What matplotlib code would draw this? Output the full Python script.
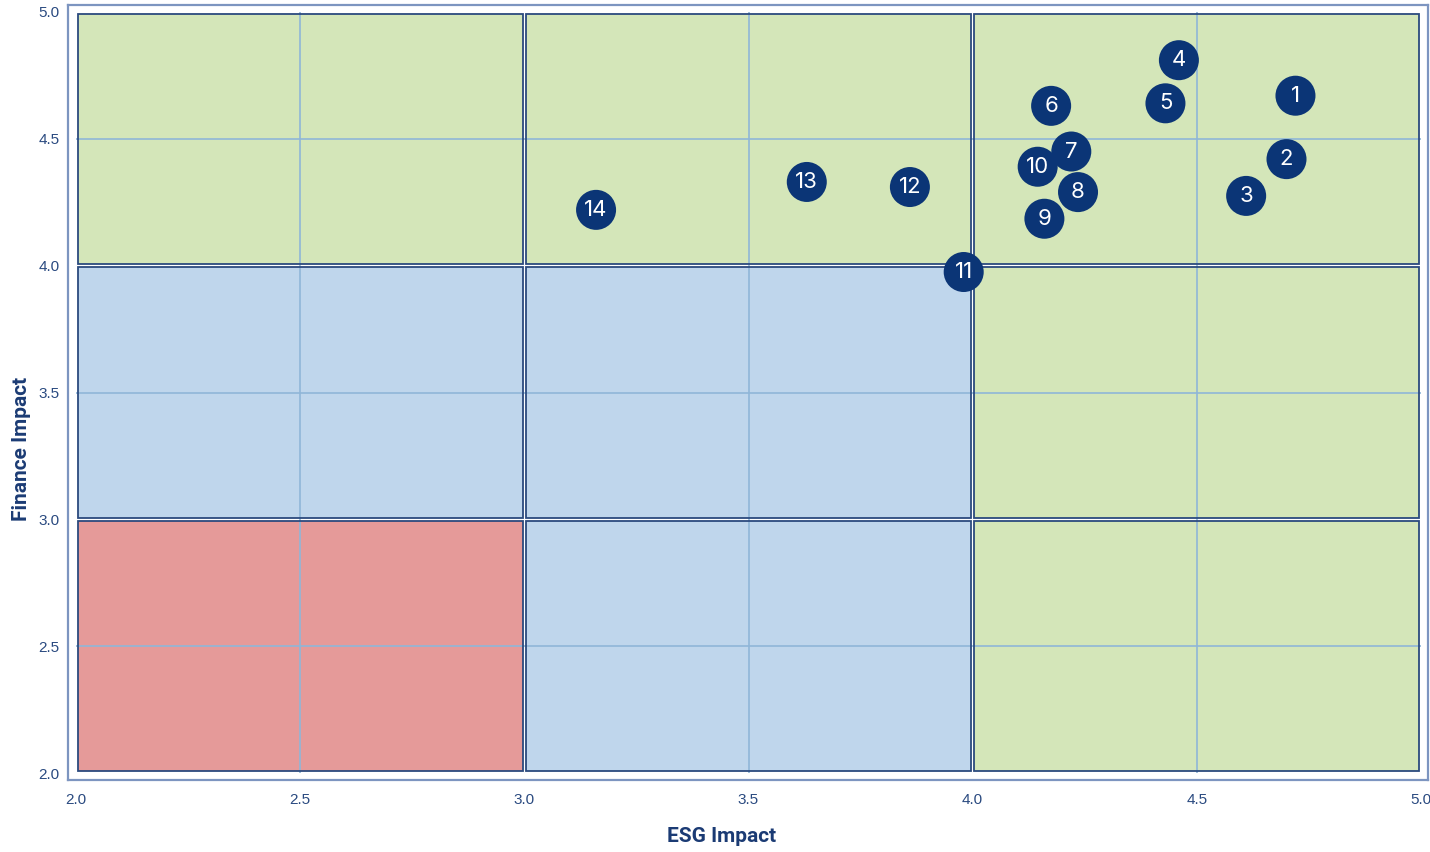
import matplotlib
matplotlib.use("Agg")
import matplotlib.pyplot as plt
from matplotlib.patches import Rectangle

# ---- data ----
labels = ["1", "2", "3", "4", "5", "6", "7", "8", "9", "10", "11", "12", "13", "14"]
esg_impact = [4.72, 4.70, 4.61, 4.46, 4.43, 4.175, 4.22, 4.235, 4.16, 4.145, 3.98, 3.86, 3.63, 3.16]
finance_impact = [4.67, 4.42, 4.275, 4.81, 4.64, 4.63, 4.45, 4.29, 4.185, 4.39, 3.975, 4.31, 4.33, 4.22]

x_ticks = [2.0, 2.5, 3.0, 3.5, 4.0, 4.5, 5.0]
y_ticks = [2.0, 2.5, 3.0, 3.5, 4.0, 4.5, 5.0]
zone_edges = [2.0, 3.0, 4.0, 5.0]
# zone colours by (column, row): column = ESG band, row = Finance band (bottom to top)
zone_names = [["risk", "watch", "good"],       # ESG 2-3
              ["watch", "watch", "good"],      # ESG 3-4
              ["good", "good", "good"]]        # ESG 4-5

zone_colors = {"risk": "#e59a99", "watch": "#bfd6ec", "good": "#d4e6b9"}
edge_color = "#2b4a7e"
grid_color = "#8fb6d8"
marker_color = "#0b3576"
text_color = "#2a4a80"
frame_color = "#7d95c0"

fig = plt.figure(figsize=(14.3, 8.52), dpi=100)
ax = fig.add_axes([68 / 1430, 1 - 780 / 852, (1428 - 68) / 1430, (780 - 5) / 852])

gap = 0.0035
for i in range(3):
    for j in range(3):
        x0, x1 = zone_edges[i], zone_edges[i + 1]
        y0, y1 = zone_edges[j], zone_edges[j + 1]
        c = zone_colors[zone_names[i][j]]
        ax.add_patch(Rectangle((x0 + gap, y0 + gap * 1.7), (x1 - x0) - 2 * gap, (y1 - y0) - 2 * gap * 1.7,
                               facecolor=c, edgecolor="none", zorder=1))
        ax.add_patch(Rectangle((x0 + gap, y0 + gap * 1.7), (x1 - x0) - 2 * gap, (y1 - y0) - 2 * gap * 1.7,
                               facecolor="none", edgecolor=edge_color, linewidth=1.3, zorder=2.5))

for v in [2.5, 3.5, 4.5]:
    ax.vlines(v, 2.0, 5.0, color=grid_color, linewidth=1.2, zorder=2)
    ax.hlines(v, 2.0, 5.0, color=grid_color, linewidth=1.2, zorder=2)

ax.scatter(esg_impact, finance_impact, s=830, color=marker_color, edgecolors="none", zorder=4)
for lab, x, y in zip(labels, esg_impact, finance_impact):
    ax.text(x, y, lab, color="white", ha="center", va="center", fontsize=16,
            family="Inter", zorder=5)

ax.set_xlim(2 - 8 / 448.3, 5 + 7 / 448.3)
ax.set_ylim(2 - 7 / 253.7, 5 + 7 / 253.7)
ax.set_xticks(x_ticks)
ax.set_yticks(y_ticks)
ax.set_xticklabels([f"{t:.1f}" for t in x_ticks])
ax.set_yticklabels([f"{t:.1f}" for t in y_ticks])
ax.tick_params(axis="y", length=0, labelsize=11, labelcolor=text_color, pad=6)
ax.tick_params(axis="x", length=0, labelsize=11, labelcolor=text_color, pad=9)
for lab in ax.get_xticklabels() + ax.get_yticklabels():
    lab.set_family("Liberation Sans")
for s in ax.spines.values():
    s.set_color(frame_color)
    s.set_linewidth(1.6)

ax.set_xlabel("ESG Impact", fontsize=15, fontweight="bold", color="#1b3b74", family="Roboto")
ax.set_ylabel("Finance Impact", fontsize=15, fontweight="bold", color="#1b3b74", family="Roboto")
ax.xaxis.set_label_coords((722 - 68) / 1360, (780 - 827) / 775)
ax.yaxis.set_label_coords((31 - 68) / 1360, (780 - 449) / 775)

fig.savefig("out.png", dpi=100, facecolor="white")
